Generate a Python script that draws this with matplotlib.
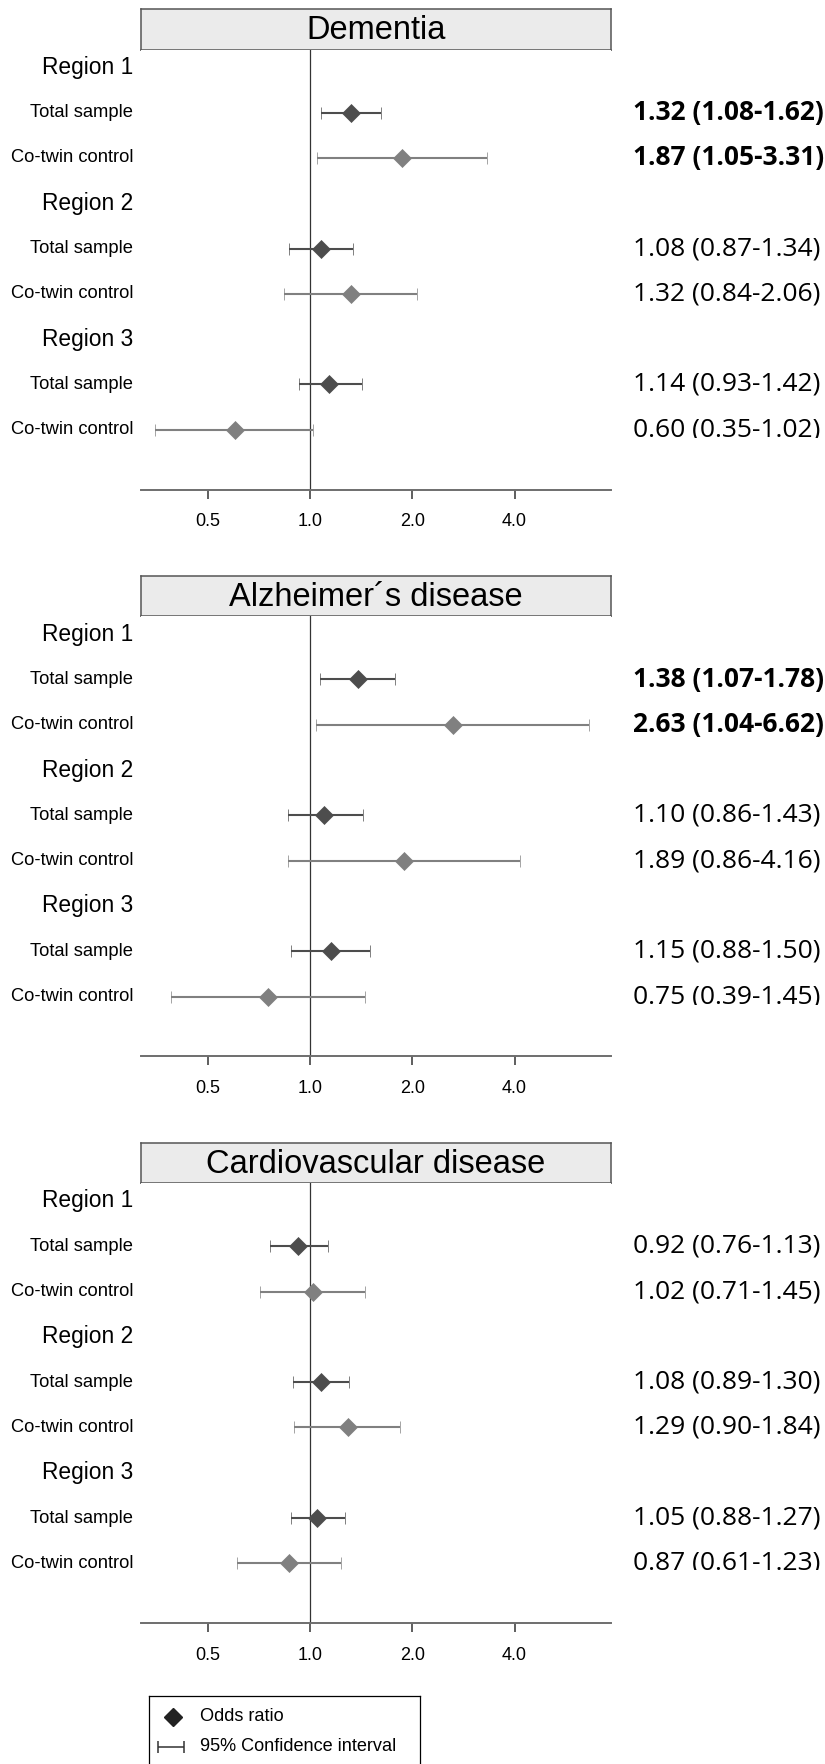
import sys
import numpy as np
import matplotlib
matplotlib.use('Agg')
import matplotlib.pyplot as plt
from matplotlib.transforms import Bbox, TransformedBbox

# figure size in pixels (dpi 100)
W, H = 825, 1764

diseases = ["Dementia", "Alzheimer´s disease", "Cardiovascular disease"]
regions = ["Region 1", "Region 2", "Region 3"]
groups = ["Total sample", "Co-twin control"]

# order: R1 total, R1 co-twin, R2 total, R2 co-twin, R3 total, R3 co-twin
dementia_or = [1.32, 1.87, 1.08, 1.32, 1.14, 0.60]
dementia_lo = [1.08, 1.05, 0.87, 0.84, 0.93, 0.35]
dementia_hi = [1.62, 3.31, 1.34, 2.06, 1.42, 1.02]

alzheimer_or = [1.38, 2.63, 1.10, 1.89, 1.15, 0.75]
alzheimer_lo = [1.07, 1.04, 0.86, 0.86, 0.88, 0.39]
alzheimer_hi = [1.78, 6.62, 1.43, 4.16, 1.50, 1.45]

cvd_or = [0.92, 1.02, 1.08, 1.29, 1.05, 0.87]
cvd_lo = [0.76, 0.71, 0.89, 0.90, 0.88, 0.61]
cvd_hi = [1.13, 1.45, 1.30, 1.84, 1.27, 1.23]

# significant estimates are printed in bold
dementia_sig = [True, True, False, False, False, False]
alzheimer_sig = [True, True, False, False, False, False]
cvd_sig = [False, False, False, False, False, False]

tick_values = [0.5, 1.0, 2.0, 4.0]
tick_labels = ["0.5", "1.0", "2.0", "4.0"]

legend_labels = ["Odds ratio", "95% Confidence interval"]

SANS = ["Liberation Sans", "DejaVu Sans"]
NUMS = ["Open Sans", "DejaVu Sans"]
group_colors = ["#4d4d4d", "#808080"]

# where the last estimate text is cut off (px below its row centre)
cut_offset = [8.4, 8.4, 6.7]


def fig_rect(x0, y_top, x1, y_bot):
	# pixel box (top-down) -> figure fraction rect
	return [x0 / W, 1 - y_bot / H, (x1 - x0) / W, (y_bot - y_top) / H]


def draw_panel(fig, k, title, ors, los, his, sig):
	off = k * 566.8
	# title box
	tax = fig.add_axes(fig_rect(141, 9.3 + off, 611, 49.6 + off))
	tax.set_facecolor("#ebebeb")
	tax.set_xticks([]), tax.set_yticks([])
	for s in tax.spines.values():
		s.set_color("#555555")
		s.set_linewidth(1.1)
	tax.text(0.5, 0.47, title, ha="center", va="center", fontsize=23.5,
		family=SANS, transform=tax.transAxes)

	ax = fig.add_axes(fig_rect(141, 49.6 + off, 611, 489.6 + off))
	ax.set_xscale("log", base=2)
	ax.set_xlim(0.318, 7.69)
	ax.set_ylim(9.322, -0.391)
	for s in ["left", "right", "top"]:
		ax.spines[s].set_visible(False)
	ax.spines["bottom"].set_color("#6e6e6e")
	ax.spines["bottom"].set_linewidth(1.4)
	ax.set_yticks([])
	ax.set_xticks(tick_values)
	ax.set_xticklabels(tick_labels, family=SANS, fontsize=13)
	ax.xaxis.set_minor_locator(matplotlib.ticker.NullLocator())
	ax.tick_params(axis="x", length=6.5, width=1.1, color="#333333", pad=10.5)
	ax.axvline(1.0, color="#333333", lw=0.9, zorder=1)

	ytr = ax.get_yaxis_transform()
	# clip box for the cut-off last estimate (everything above clip_y)
	clip_y = 429.7 + off + cut_offset[k]
	clip = TransformedBbox(Bbox([[0, 1 - clip_y / H], [1, 1]]), fig.transFigure)
	i = 0
	for r, reg in enumerate(regions):
		row = 3 * r
		ax.text(-0.017, row, reg, transform=ytr, ha="right", va="center",
			fontsize=16.4, family=SANS, clip_on=False)
		for g, grp in enumerate(groups):
			y = row + 1 + g
			ax.text(-0.017, y, grp, transform=ytr, ha="right", va="center",
				fontsize=13.2, family=SANS, clip_on=False)
			c = group_colors[g]
			ax.errorbar([ors[i]], [y],
				xerr=[[ors[i] - los[i]], [his[i] - ors[i]]],
				fmt="D", ms=9, mfc=c, mec=c, mew=0.5, ecolor=c,
				elinewidth=1.5, capsize=4.3, capthick=1.4, zorder=3)
			lab = "%.2f (%.2f-%.2f)" % (ors[i], los[i], his[i])
			t = ax.text(1.0468, y, lab, transform=ytr, ha="left", va="center",
				fontsize=19, family=NUMS,
				fontweight="bold" if sig[i] else "normal")
			if i == 5:
				# the last estimate is cut off at the bottom in the original
				t.set_clip_on(True)
				t.set_clip_box(clip)
			else:
				t.set_clip_on(False)
			i += 1
	return ax


def draw_legend(fig):
	lax = fig.add_axes(fig_rect(149, 1696, 420, 1800))
	lax.set_xlim(149, 420)
	lax.set_ylim(1800, 1696)
	lax.set_xticks([]), lax.set_yticks([])
	for s in lax.spines.values():
		s.set_color("black")
		s.set_linewidth(0.9)
	lax.plot([173], [1717], "D", ms=9, color="#222222")
	lax.errorbar([171], [1747], xerr=[[13], [13]], fmt="none",
		ecolor="#333333", elinewidth=1.1, capsize=4, capthick=1.1)
	for yy, lab in zip([1717, 1747], legend_labels):
		lax.text(200, yy, lab, ha="left", va="center", fontsize=13.1,
			family=SANS)


def main(argv=None):
	fig = plt.figure(figsize=(W / 100, H / 100), dpi=100)
	draw_panel(fig, 0, diseases[0], dementia_or, dementia_lo, dementia_hi, dementia_sig)
	draw_panel(fig, 1, diseases[1], alzheimer_or, alzheimer_lo, alzheimer_hi, alzheimer_sig)
	draw_panel(fig, 2, diseases[2], cvd_or, cvd_lo, cvd_hi, cvd_sig)
	draw_legend(fig)
	fig.savefig("out.png", dpi=100)


if __name__ == '__main__':
	sys.exit(main())
